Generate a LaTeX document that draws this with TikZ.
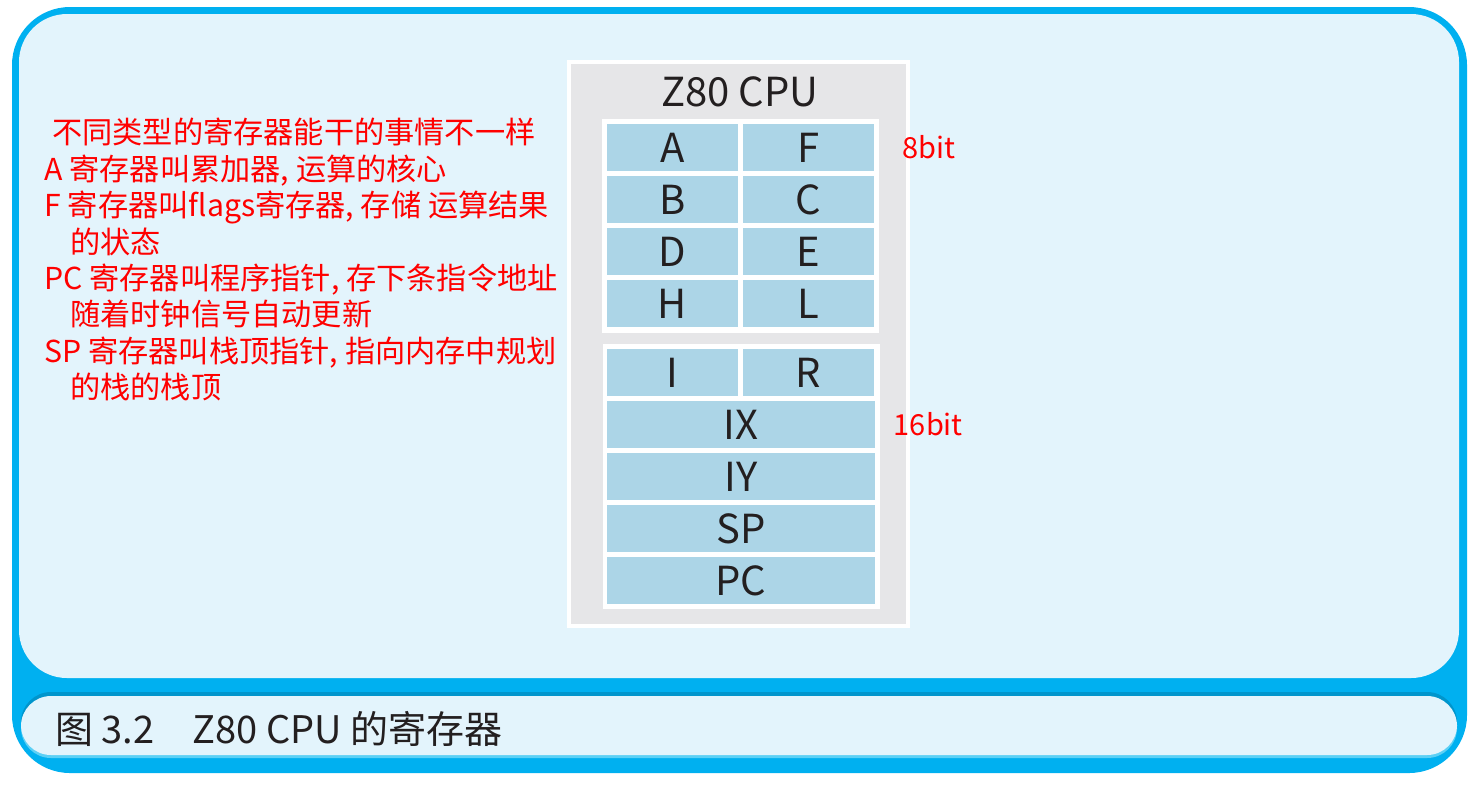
\documentclass[tikz,border=0pt]{standalone}
\usepackage{fontspec}
\setmainfont{Noto Sans CJK SC}
\usepackage{tikz}
\usetikzlibrary{positioning}

\definecolor{framecol}{HTML}{00B0F0}
\definecolor{panelcol}{HTML}{E3F4FC}
\definecolor{darkband}{HTML}{0095CC}
\definecolor{lightband}{HTML}{5CD0F5}
\definecolor{cpugray}{HTML}{E6E6E8}
\definecolor{regcol}{HTML}{ACD5E7}
\definecolor{textdark}{HTML}{231F20}

\begin{document}
\begin{tikzpicture}[x=0.5pt, y=-0.5pt,
  reg/.style={fill=regcol, minimum width=65.5pt, minimum height=23.5pt, inner sep=0,
    text=textdark, font=\fontsize{20}{24}\selectfont},
  wreg/.style={reg, minimum width=134pt},
  bitlabel/.style={text=red, inner sep=0, font=\fontsize{14.5}{18}\selectfont},
  notes/.style={text=red, inner sep=0, align=left, font=\fontsize{15.1}{18.2}\selectfont}]
\useasboundingbox (0,0) rectangle (1478,784);

% frame
\fill[framecol, rounded corners=29pt] (12,7) rectangle (1467,773);
\fill[panelcol, rounded corners=24pt] (19,14) rectangle (1459,678);

% caption panel
\fill[lightband, rounded corners=15pt] (21,700) rectangle (1457,758);
\fill[darkband, rounded corners=15pt] (21,692) rectangle (1457,752);
\fill[panelcol, rounded corners=15pt] (21,696) rectangle (1457,755);
\node[anchor=west, inner sep=0, text=textdark, font=\fontsize{19}{24}\selectfont] (caption)
  at (55,729) {图 3.2\quad Z80 CPU 的寄存器};

% cpu box
\filldraw[fill=cpugray, draw=white, line width=2pt] (569,62) rectangle (908,626);
\node[text=textdark, font=\fontsize{20}{24}\selectfont] (cpu) at (740,92) {Z80 CPU};
\fill[white] (602,119) rectangle (879,333);
\fill[white] (603,344) rectangle (880,609);

% 8 bit registers
\foreach \l/\r [count=\i] in {A/F, B/C, D/E, H/L} {
  \node[reg] (\l) at (672.5,95.5+52*\i) {\l};
  \node[reg] (\r) at (808.5,95.5+52*\i) {\r};
}

% 16 bit registers
\node[reg] (I) at (672.5,372.5) {I};
\node[reg] (R) at (808.5,372.5) {R};
\foreach \n [count=\i] in {IX, IY, SP, PC}
  \node[wreg] (\n) at (741,372.5+52*\i) {\n};

\node[bitlabel, right=14pt of F] (bit8) {8bit};
\node[bitlabel, right=9pt of IX] (bit16) {16bit};

% notes
\node[notes, anchor=north west] (notes) at (44,118) {\hspace*{4pt}不同类型的寄存器能干的事情不一样\\
A 寄存器叫累加器, 运算的核心\\
F 寄存器叫flags寄存器, 存储 运算结果\\
\hspace*{13pt}的状态\\
PC 寄存器叫程序指针, 存下条指令地址\\
\hspace*{13pt}随着时钟信号自动更新\\
SP 寄存器叫栈顶指针, 指向内存中规划\\
\hspace*{13pt}的栈的栈顶};
\end{tikzpicture}
\end{document}
